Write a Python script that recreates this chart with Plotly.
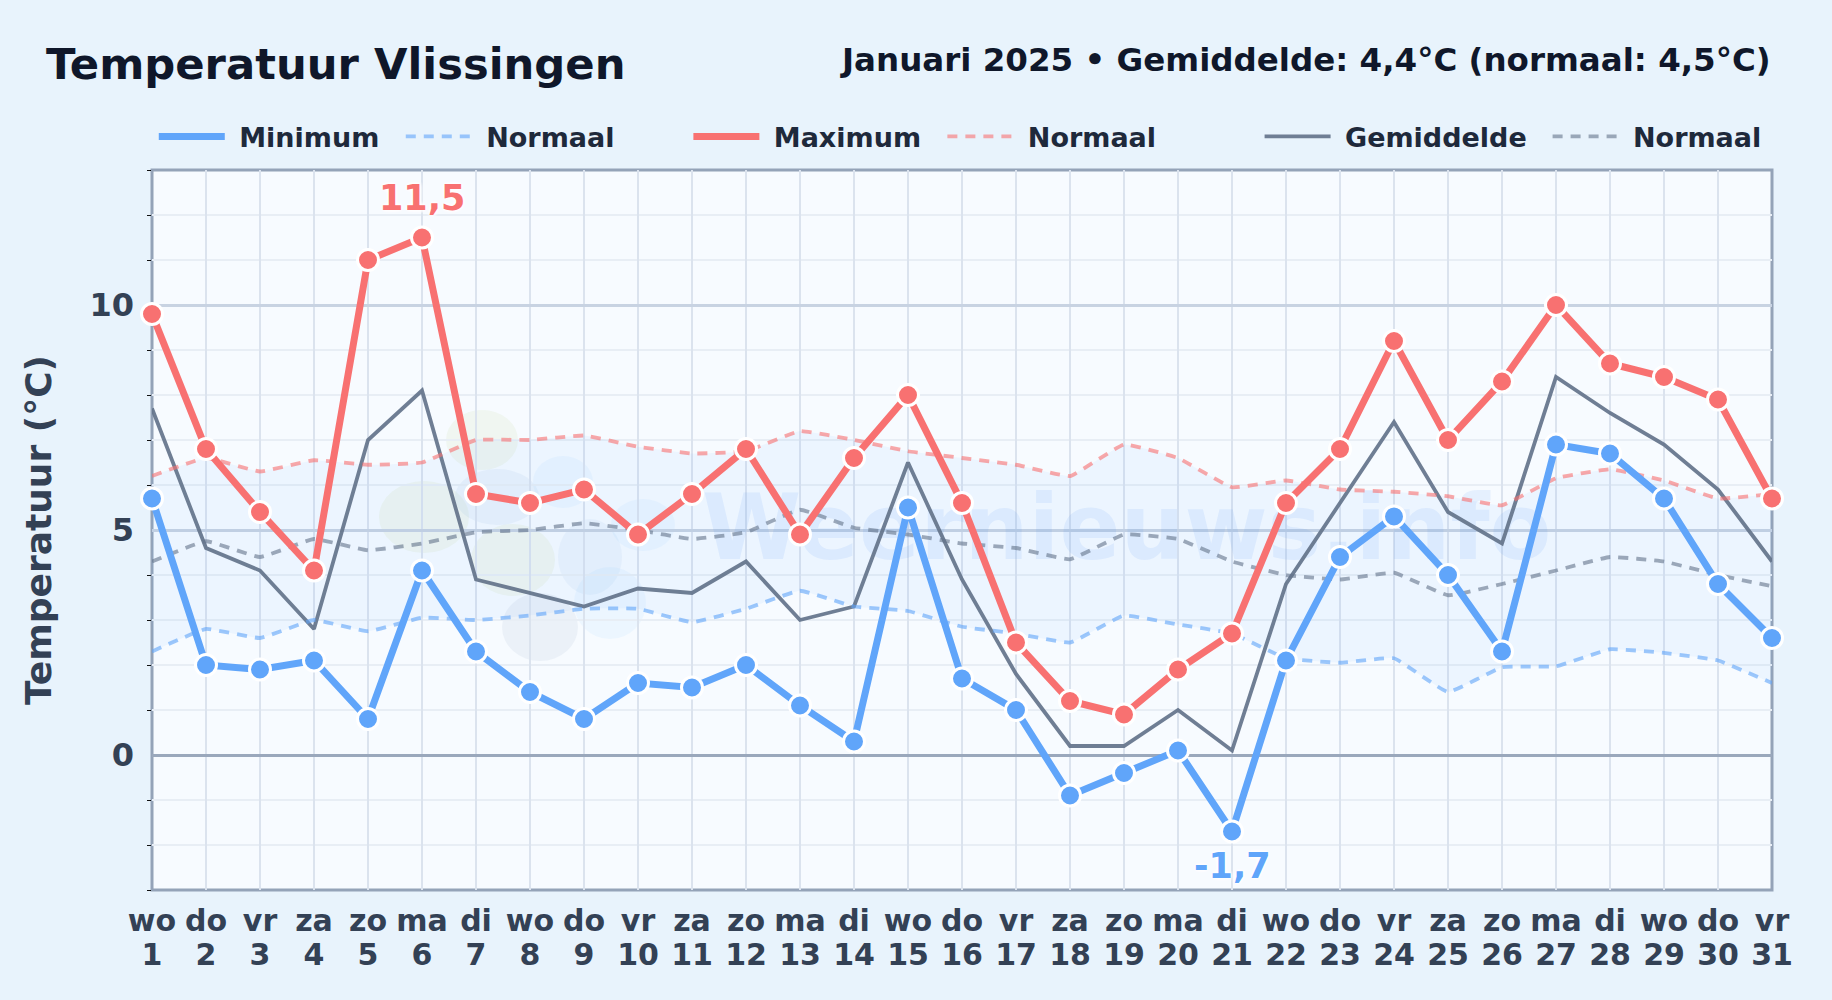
import plotly.graph_objects as go

DAYS = list(range(1, 32))
WEEKDAYS = ["wo","do","vr","za","zo","ma","di"] * 4 + ["wo","do","vr"]
TMIN = [5.7,2.0,1.9,2.1,0.8,4.1,2.3,1.4,0.8,1.6,1.5,2.0,1.1,0.3,5.5,1.7,1.0,-0.9,-0.4,0.1,-1.7,2.1,4.4,5.3,4.0,2.3,6.9,6.7,5.7,3.8,2.6]
TMAX = [9.8,6.8,5.4,4.1,11.0,11.5,5.8,5.6,5.9,4.9,5.8,6.8,4.9,6.6,8.0,5.6,2.5,1.2,0.9,1.9,2.7,5.6,6.8,9.2,7.0,8.3,10.0,8.7,8.4,7.9,5.7]
TAVG = [7.7,4.6,4.1,2.8,7.0,8.1,3.9,3.6,3.3,3.7,3.6,4.3,3.0,3.3,6.5,3.9,1.8,0.2,0.2,1.0,0.1,3.8,5.6,7.4,5.4,4.7,8.4,7.6,6.9,5.9,4.3]
NMIN = [2.3,2.8,2.6,3.0,2.75,3.05,3.0,3.1,3.25,3.25,2.95,3.25,3.65,3.3,3.2,2.85,2.7,2.5,3.1,2.9,2.7,2.15,2.05,2.15,1.4,1.95,1.97,2.35,2.27,2.1,1.6]
NMAX = [6.2,6.6,6.3,6.55,6.45,6.5,7.0,7.0,7.1,6.85,6.7,6.75,7.2,7.0,6.75,6.6,6.45,6.2,6.9,6.6,5.95,6.1,5.9,5.85,5.75,5.55,6.15,6.35,6.1,5.7,5.8]
NAVG = [4.3,4.75,4.4,4.8,4.55,4.7,4.95,5.0,5.15,5.0,4.8,4.95,5.45,5.05,4.9,4.7,4.6,4.35,4.9,4.8,4.3,4.0,3.9,4.05,3.55,3.8,4.1,4.4,4.3,4.0,3.75]

BG = "#e8f3fc"
BLUE = "#60a5fa"
RED = "#f87171"
SLATE = "#64748b"
FONT = "DejaVu Sans"
NB = "\u00a0"
W, H = 1832, 1000

def comma(v):
    return f"{v:.1f}".replace(".", ",")

fig = go.Figure()

# shaded normal band
fig.add_trace(go.Scatter(x=DAYS, y=NMIN, mode="lines", line=dict(width=0, shape="spline", smoothing=0.3),
                         showlegend=False, hoverinfo="skip"))
fig.add_trace(go.Scatter(x=DAYS, y=NMAX, mode="lines", line=dict(width=0, shape="spline", smoothing=0.3),
                         fill="tonexty", fillcolor="rgba(96,165,250,0.065)", showlegend=False, hoverinfo="skip"))

# watermark
fig.add_trace(go.Scatter(x=[19.05], y=[4.85], mode="text", text=["Weernieuws.info"],
                         textfont=dict(family=FONT, size=90, color="rgba(59,130,246,0.09)", weight="bold"),
                         showlegend=False, hoverinfo="skip", cliponaxis=False))

# invisible trace that carries the weekday axis
fig.add_trace(go.Scatter(x=DAYS, y=[None] * len(DAYS), xaxis="x2", mode="lines", showlegend=False, hoverinfo="skip"))

def normal(y, color, legend, rank):
    fig.add_trace(go.Scatter(x=DAYS, y=y, name=NB + "Normaal", mode="lines", legend=legend, opacity=0.6, legendrank=rank,
                             line=dict(color=color, width=3.8, dash="10px,8px", shape="spline", smoothing=0.3),
                             cliponaxis=True))

def solid(y, color, name, legend, rank):
    fig.add_trace(go.Scatter(x=DAYS, y=y, name=NB + name, mode="lines", legend=legend, legendrank=rank,
                             line=dict(color=color, width=7), cliponaxis=False))
    fig.add_trace(go.Scatter(x=DAYS, y=y, mode="markers", showlegend=False,
                             marker=dict(size=21, color=color, line=dict(color="white", width=3)),
                             cliponaxis=False))

fig.add_trace(go.Scatter(x=DAYS, y=TAVG, name=NB + "Gemiddelde", mode="lines", legend="legend3", legendrank=1,
                         line=dict(color=SLATE, width=3.8), opacity=0.92, cliponaxis=False))
normal(NAVG, SLATE, "legend3", 2)
normal(NMIN, BLUE, "legend", 2)
normal(NMAX, RED, "legend2", 2)
solid(TMIN, BLUE, "Minimum", "legend", 1)
solid(TMAX, RED, "Maximum", "legend2", 1)

# logo blobs of the watermark
BLOBS = [
    (482, 440, 36, 30, "rgba(190,220,150,0.13)"),
    (424, 517, 45, 36, "rgba(190,220,150,0.13)"),
    (513, 560, 42, 36, "rgba(190,220,150,0.13)"),
    (497, 497, 42, 28, "rgba(100,150,210,0.08)"),
    (563, 482, 30, 26, "rgba(120,190,250,0.08)"),
    (590, 557, 32, 38, "rgba(100,150,210,0.07)"),
    (643, 525, 32, 26, "rgba(120,190,250,0.08)"),
    (610, 603, 36, 36, "rgba(120,190,250,0.08)"),
    (540, 627, 38, 34, "rgba(100,130,170,0.08)"),
]
shapes = [dict(type="circle", layer="below", xref="paper", yref="paper",
               x0=(cx - rx - 152) / 1620, x1=(cx + rx - 152) / 1620,
               y0=(890 - cy - ry) / 720, y1=(890 - cy + ry) / 720,
               fillcolor=c, line=dict(width=0)) for cx, cy, rx, ry, c in BLOBS]
# plot border, centred on the plot edge
shapes.append(dict(type="rect", layer="below", xref="paper", yref="paper", x0=0, x1=1, y0=0, y1=1,
                   line=dict(color="#94a3b8", width=3)))

# min/max labels
imax = TMAX.index(max(TMAX))
imin = TMIN.index(min(TMIN))
shadow = "white 0 0 4px, white 0 0 4px, white 0 0 4px, white 0 0 4px"
annotations = [
    dict(x=DAYS[imax], y=TMAX[imax], text=comma(TMAX[imax]), showarrow=False, yshift=40,
         font=dict(family=FONT, size=35, color=RED, weight="bold", shadow=shadow)),
    dict(x=DAYS[imin], y=TMIN[imin], text=comma(TMIN[imin]), showarrow=False, yshift=-34,
         font=dict(family=FONT, size=35, color=BLUE, weight="bold", shadow=shadow)),
    dict(xref="paper", yref="paper", x=1, y=1, yshift=110, xshift=1, xanchor="right", yanchor="middle", showarrow=False,
         text="Januari 2025 • Gemiddelde: 4,4°C (normaal: 4,5°C)",
         font=dict(family=FONT, size=32.5, color="#0f172a", weight="bold")),
]

leg = dict(orientation="h", yanchor="middle", y=1.046, xanchor="left", bgcolor="rgba(0,0,0,0)",
           font=dict(family=FONT, size=27, color="#1e293b", weight="bold"),
           itemwidth=66, tracegroupgap=0, entrywidthmode="pixels", traceorder="normal")

xbase = dict(range=[1, 31], tickmode="array", tickvals=DAYS, ticks="", zeroline=False, showline=False,
             tickfont=dict(family=FONT, size=30, color="#334155", weight="bold"))

fig.update_layout(
    width=W, height=H,
    margin=dict(l=152, r=60, t=170, b=110, autoexpand=False),
    paper_bgcolor=BG, plot_bgcolor="#f7fbff",
    font=dict(family=FONT),
    title=dict(text="Temperatuur Vlissingen", x=46 / W, xanchor="left", y=0.936, yanchor="middle",
               font=dict(family=FONT, size=43.3, color="#0f172a", weight="bold")),
    xaxis=dict(xbase, ticktext=[str(d) for d in DAYS], showgrid=True, gridcolor="#dbe3ee", gridwidth=2,
               ticklabelstandoff=44),
    xaxis2=dict(xbase, ticktext=WEEKDAYS, showgrid=False, overlaying="x", side="bottom", anchor="y",
                ticklabelstandoff=10),
    yaxis=dict(range=[-3, 13], tick0=0, dtick=5, showgrid=True, gridcolor="#c8d3e2", gridwidth=2.5,
               zeroline=True, zerolinecolor="#9aa8bc", zerolinewidth=3, ticks="", showline=False,
               ticklabelstandoff=17,
               minor=dict(dtick=1, tick0=0, showgrid=True, gridcolor="#e8eef5", gridwidth=2,
                          ticks="outside", ticklen=4, tickwidth=1, tickcolor="#111111"),
               title=dict(text="Temperatuur (°C)", standoff=26,
                          font=dict(family=FONT, size=36, color="#334155", weight="bold")),
               tickfont=dict(family=FONT, size=32, color="#334155", weight="bold")),
    shapes=shapes, annotations=annotations,
    legend=dict(leg, x=0.0011, entrywidth=166),
    legend2=dict(leg, x=0.3311, entrywidth=173),
    legend3=dict(leg, x=0.6837, entrywidth=207),
    hovermode=False,
)

fig.write_html("out.html", post_script="document.body.style.margin='0';document.body.style.background='%s';" % BG,
               config={"displayModeBar": False})
